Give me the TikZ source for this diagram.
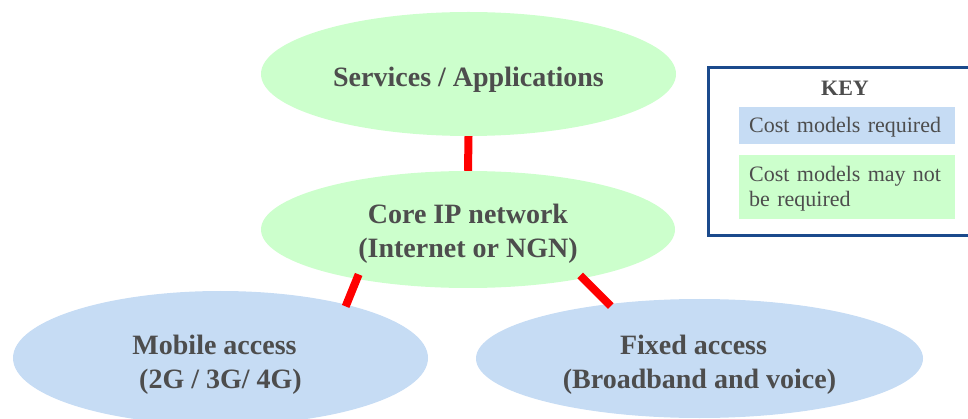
\documentclass[tikz,border=0pt]{standalone}
\usepackage{fontspec}
\setmainfont{Liberation Serif}
\usetikzlibrary{shapes.geometric}
\definecolor{lgreen}{HTML}{CCFFCC}
\definecolor{lblue}{HTML}{C6DCF4}
\definecolor{txtgrey}{HTML}{4D4D4D}
\definecolor{keyblue}{HTML}{1B4A8C}
\begin{document}
\begin{tikzpicture}[x=1pt,y=-1pt,
  blob/.style={ellipse, inner sep=0pt, align=center, text=txtgrey,
    font=\fontsize{28}{34}\selectfont\bfseries},
  greenblob/.style={blob, fill=lgreen},
  blueblob/.style={blob, fill=lblue},
  link/.style={draw=red, line width=8pt},
  keyitem/.style={anchor=north west, inner xsep=10pt, inner ysep=0pt, text width=196pt,
    align=left, text=txtgrey, font=\fontsize{22}{25}\selectfont}]
\clip (0,0) rectangle (968,419);
\node[greenblob, minimum width=415pt, minimum height=124pt] (svc) at (468.5,74)
  {\rule{0pt}{30pt}Services / Applications};
\node[greenblob, minimum width=414pt, minimum height=117pt] (core) at (468,229.5)
  {\rule{0pt}{28pt}Core IP network\\(Internet or NGN)};
\node[blueblob, minimum width=415pt, minimum height=134pt] (mob) at (220.5,358)
  {\rule{0pt}{33pt}Mobile access\hspace*{12pt}\\(2G / 3G/ 4G)};
\node[blueblob, minimum width=447pt, minimum height=119pt] (fix) at (699.5,358.5)
  {\rule{0pt}{31pt}Fixed access\hspace*{12pt}\\(Broadband and voice)};
\draw[link] (svc.south) -- (core.north);
\draw[link, shorten <=-5pt, shorten >=-2pt] (core.204.9) -- (mob.23.7);
\draw[link, shorten <=-4pt, shorten >=-3pt] (core.337.2) -- (fix.149.3);
\node[draw=keyblue, line width=3pt, anchor=north west, inner sep=0pt,
  minimum width=290pt, minimum height=168pt] (keybox) at (707,66) {};
\node[text=txtgrey, font=\fontsize{22}{25}\selectfont\bfseries] (keytitle) at (845,88) {KEY};
\node[keyitem, fill=lblue, minimum height=37pt] (kreq) at (739,107) {\rule{0pt}{18pt}Cost models required};
\node[keyitem, fill=lgreen, minimum height=64pt] (knot) at (739,155) {\rule{0pt}{18pt}Cost models may not\\be required};
\end{tikzpicture}
\end{document}
